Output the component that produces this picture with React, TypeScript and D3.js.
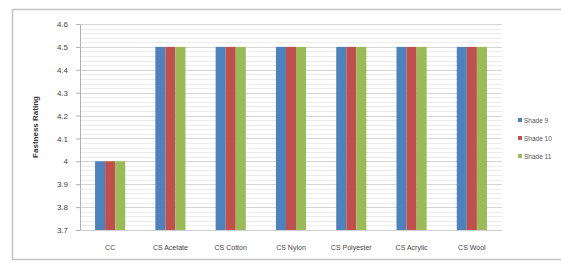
import React, { useRef, useEffect } from 'react';
import * as d3 from 'd3';

const categories = ['CC', 'CS Acetate', 'CS Cotton', 'CS Nylon', 'CS Polyester', 'CS Acrylic', 'CS Wool'];
const seriesNames = ['Shade 9', 'Shade 10', 'Shade 11'];
const shade9 = [4, 4.5, 4.5, 4.5, 4.5, 4.5, 4.5];
const shade10 = [4, 4.5, 4.5, 4.5, 4.5, 4.5, 4.5];
const shade11 = [4, 4.5, 4.5, 4.5, 4.5, 4.5, 4.5];
const yTicks = [3.7, 3.8, 3.9, 4, 4.1, 4.2, 4.3, 4.4, 4.5, 4.6];
const colors = ['#4F81BD', '#C0504D', '#9BBB59'];

const App = () => {
  const svgRef = useRef<SVGSVGElement>(null);

  useEffect(() => {
    const svg = d3.select(svgRef.current);
    svg.selectAll('*').remove();

    const width = 561;
    const height = 263;
    const plot = { left: 80, right: 502, top: 24, bottom: 230 };
    const font = '"Liberation Sans", Arial, sans-serif';
    const values = [shade9, shade10, shade11];

    // outer chart frame (cut off at right)
    svg.append('path')
      .attr('d', `M${width + 2},9.5 H12.5 V259.5 H${width + 2}`)
      .attr('fill', 'none')
      .attr('stroke', '#c4c4c4')
      .attr('stroke-width', 1.5);

    const x = d3.scaleBand<string>()
      .domain(categories)
      .range([plot.left, plot.right])
      .paddingInner(0.5)
      .paddingOuter(0.25);

    const xs = d3.scaleBand<string>()
      .domain(seriesNames)
      .range([0, x.bandwidth()]);

    const y = d3.scaleLinear()
      .domain([3.7, 4.6])
      .range([plot.bottom, plot.top]);

    // minor gridlines
    const minor = d3.range(0, 46).map((i) => 3.7 + i * 0.02);
    svg.append('g')
      .selectAll('line')
      .data(minor)
      .join('line')
      .attr('x1', plot.left)
      .attr('x2', plot.right)
      .attr('y1', (d) => Math.round(y(d)) + 0.5)
      .attr('y2', (d) => Math.round(y(d)) + 0.5)
      .attr('stroke', '#ececec')
      .attr('stroke-width', 1);

    // major gridlines
    svg.append('g')
      .selectAll('line')
      .data(yTicks)
      .join('line')
      .attr('x1', plot.left)
      .attr('x2', plot.right)
      .attr('y1', (d) => Math.round(y(d)) + 0.5)
      .attr('y2', (d) => Math.round(y(d)) + 0.5)
      .attr('stroke', '#d6d6d6')
      .attr('stroke-width', 1);

    // bars
    values.forEach((vals, si) => {
      svg.append('g')
        .attr('fill', colors[si])
        .selectAll('rect')
        .data(vals)
        .join('rect')
        .attr('x', (d, i) => (x(categories[i]) as number) + (xs(seriesNames[si]) as number))
        .attr('y', (d) => y(d))
        .attr('width', xs.bandwidth())
        .attr('height', (d) => y(3.7) - y(d));
    });

    // y axis
    const yAxis = svg.append('g')
      .attr('transform', `translate(${plot.left},0)`)
      .call(d3.axisLeft(y).tickValues(yTicks).tickFormat(d3.format('')).tickSize(4).tickPadding(8));
    yAxis.select('.domain').attr('stroke', '#b0b0b0');
    yAxis.selectAll('.tick line').attr('stroke', '#b0b0b0');
    yAxis.selectAll('text')
      .attr('font-family', font)
      .attr('font-size', 8)
      .attr('fill', '#444');

    // x axis line
    svg.append('line')
      .attr('x1', plot.left)
      .attr('x2', plot.right)
      .attr('y1', plot.bottom + 0.5)
      .attr('y2', plot.bottom + 0.5)
      .attr('stroke', '#d0d0d0');

    // x labels
    svg.append('g')
      .selectAll('text')
      .data(categories)
      .join('text')
      .attr('x', (d) => (x(d) as number) + x.bandwidth() / 2)
      .attr('y', 250)
      .attr('text-anchor', 'middle')
      .attr('font-family', font)
      .attr('font-size', 7)
      .attr('fill', '#444')
      .text((d) => d);

    // y axis title
    svg.append('text')
      .attr('transform', `translate(38,${(plot.top + plot.bottom) / 2}) rotate(-90)`)
      .attr('text-anchor', 'middle')
      .attr('font-family', font)
      .attr('font-size', 8)
      .attr('font-weight', 'bold')
      .attr('fill', '#333')
      .text('Fastness Rating');

    // legend
    const legend = svg.append('g')
      .selectAll('g')
      .data(seriesNames)
      .join('g')
      .attr('transform', (d, i) => `translate(518,${120 + i * 18})`);
    legend.append('rect')
      .attr('x', 0)
      .attr('y', -2)
      .attr('width', 4)
      .attr('height', 4)
      .attr('fill', (d, i) => colors[i]);
    legend.append('text')
      .attr('x', 6)
      .attr('y', 2.5)
      .attr('font-family', font)
      .attr('font-size', 6.5)
      .attr('fill', '#555')
      .text((d) => d);

    return () => {
      svg.selectAll('*').remove();
    };
  }, []);

  return (
    <svg
      ref={svgRef}
      width={561}
      height={263}
      style={{ position: 'absolute', left: 0, top: 0, background: '#fff' }}
    />
  );
};

export default App;
